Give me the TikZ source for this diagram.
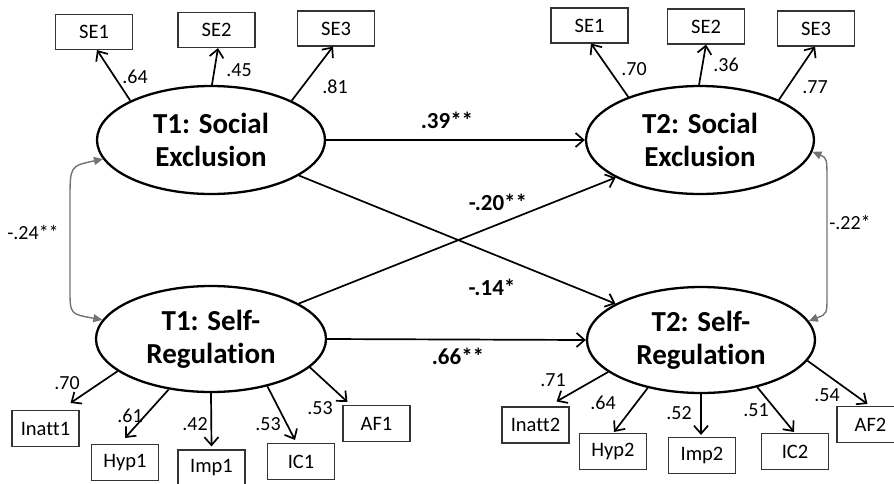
\documentclass[tikz,border=0pt]{standalone}
\usepackage{fontspec}
\setmainfont{Carlito}[Ligatures={NoCommon}]
\usetikzlibrary{arrows.meta,shapes.geometric}
\begin{document}
\begin{tikzpicture}[x=1pt,y=-1pt,
  latent/.style={ellipse, draw, line width=2.3pt, minimum width=228pt, minimum height=108pt,
    inner sep=0pt, align=center, font=\fontsize{29}{33}\selectfont\bfseries},
  ind/.style={rectangle, draw=black!80, line width=1.1pt, minimum width=77pt, minimum height=35pt,
    inner sep=0pt, font=\fontsize{20.5}{24}\selectfont},
  indlow/.style={ind, minimum width=67pt, minimum height=36pt},
  load/.style={-{Straight Barb[length=8pt,width=14pt]}, line width=1.7pt},
  regpath/.style={load},
  corr/.style={{Triangle[length=9pt,width=8pt]}-{Triangle[length=9pt,width=8pt]},
    draw=black!55, fill=none, line width=1.4pt},
  lab/.style={font=\fontsize{20}{24}\selectfont, inner sep=0pt},
  blab/.style={font=\fontsize{23}{27}\selectfont\bfseries, inner sep=0pt}
]
\useasboundingbox (0,0) rectangle (894,483);
\clip (0,0) rectangle (894,483);

% latent factors
\node[latent] (T1SE) at (211,140) {T1: Social\\Exclusion};
\node[latent] (T2SE) at (700,140) {T2: Social\\Exclusion};
\node[latent, minimum width=230pt, minimum height=106pt] (T1SR) at (211,339) {T1: Self-\\Regulation};
\node[latent, minimum height=106pt] (T2SR) at (701,340) {T2: Self-\\Regulation};

% indicators, social exclusion
\node[ind] (SE1a) at (94,32) {SE1};
\node[ind] (SE2a) at (216.5,30) {SE2};
\node[ind] (SE3a) at (336,28.5) {SE3};
\node[ind] (SE1b) at (589.5,25.5) {SE1};
\node[ind] (SE2b) at (706,26.5) {SE2};
\node[ind] (SE3b) at (816,28.5) {SE3};

% indicators, self-regulation
\node[indlow] (Inatt1) at (45.5,428.5) {Inatt1};
\node[indlow] (Hyp1) at (125,462.5) {Hyp1};
\node[indlow] (Imp1) at (211.5,468) {Imp1};
\node[indlow] (IC1) at (301,461.5) {IC1};
\node[indlow] (AF1) at (376.5,423.5) {AF1};
\node[indlow] (Inatt2) at (535.5,425) {Inatt2};
\node[indlow] (Hyp2) at (613,451.5) {Hyp2};
\node[indlow] (Imp2) at (702,455.5) {Imp2};
\node[indlow] (IC2) at (795,451.5) {IC2};
\node[indlow] (AF2) at (870.5,424.5) {AF2};

% loadings
\draw[load] (T1SE.154) -- ([xshift=3pt]SE1a.south);
\draw[load] (T1SE.89) -- ([xshift=1.5pt]SE2a.south);
\draw[load] (T1SE.26) -- ([xshift=-3pt]SE3a.south);
\draw[load] (T2SE.149) -- ([xshift=1.5pt]SE1b.south);
\draw[load] (T2SE.91) -- (SE2b.south);
\draw[load] (T2SE.27) -- ([xshift=-1pt]SE3b.south);

\draw[load] (T1SR.199) -- ([xshift=-9pt,yshift=7pt]Inatt1.north east);
\draw[load] (T1SR.230) -- ([yshift=6pt]Hyp1.north);
\draw[load] (T1SR.270) -- ([yshift=3pt]Imp1.north);
\draw[load] (T1SR.320) -- ([xshift=-6pt,yshift=3pt]IC1.north);
\draw[load] (T1SR.344) -- ([xshift=5pt,yshift=3pt]AF1.north west);
\draw[load] (T2SR.199) -- ([xshift=-13pt,yshift=5pt]Inatt2.north east);
\draw[load] (T2SR.222) -- ([xshift=1pt,yshift=1pt]Hyp2.north);
\draw[load] (T2SR.270) -- ([xshift=-1pt,yshift=2pt]Imp2.north);
\draw[load] (T2SR.320) -- ([xshift=-1pt,yshift=1pt]IC2.north);
\draw[load] (T2SR.349) -- ([xshift=31pt,yshift=2pt]AF2.north west);

% structural paths
\draw[regpath] (T1SE.east) -- (T2SE.west);
\draw[regpath] (T1SR.east) -- (T2SR.west);
\draw[regpath] (T1SE.338) -- (T2SR.157);
\draw[regpath] (T1SR.22) -- (T2SE.204);

% correlations
\draw[corr] (T1SE.190) .. controls (70,166) .. (70,200) -- (70,290) .. controls (70,314) .. (T1SR.170);
\draw[corr] (T2SE.354) .. controls (827,158) .. (827,182) -- (827,295) .. controls (827,314) .. (T2SR.10);

% loading values
\node[lab] (v1) at (135,77) {.64};
\node[lab] (v2) at (239,70) {.45};
\node[lab] (v3) at (335,87) {.81};
\node[lab] (v4) at (634,69) {.70};
\node[lab] (v5) at (726,65) {.36};
\node[lab] (v6) at (815,87) {.77};
\node[lab] (v7) at (67,383) {.70};
\node[lab] (v8) at (130,416) {.61};
\node[lab] (v9) at (195,424) {.42};
\node[lab] (v10) at (268,424) {.53};
\node[lab] (v11) at (320,408) {.53};
\node[lab] (v12) at (553,380) {.71};
\node[lab] (v13) at (603,403) {.64};
\node[lab] (v14) at (679,413) {.52};
\node[lab] (v15) at (756,410) {.51};
\node[lab] (v16) at (827,395) {.54};

% path and correlation values
\node[blab] (p1) at (447,120) {.39**};
\node[blab] (p2) at (498,202) {-.20**};
\node[blab] (p3) at (492,287) {-.14*};
\node[blab] (p4) at (458,356) {.66**};
\node[lab] (c1) at (33,232) {-.24**};
\node[lab] (c2) at (850,222) {-.22*};
\end{tikzpicture}
\end{document}
